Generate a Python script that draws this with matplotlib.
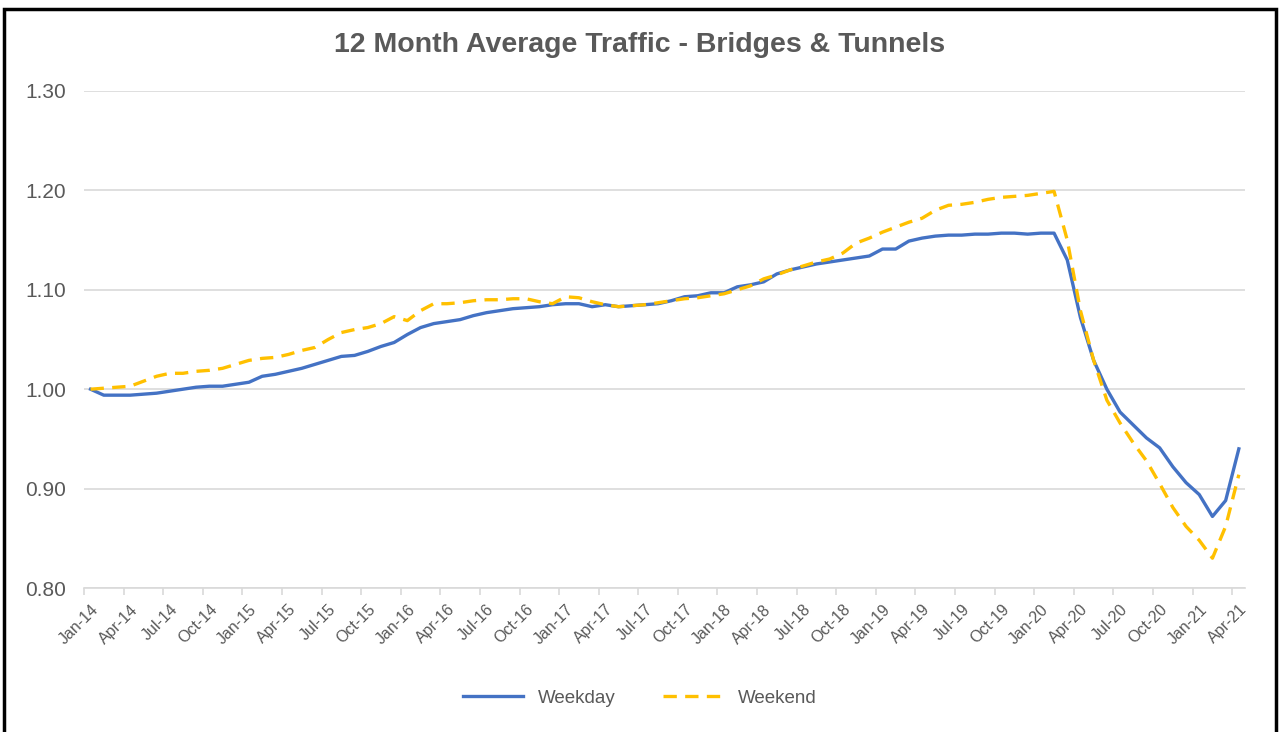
import matplotlib
matplotlib.use("Agg")
import matplotlib.pyplot as plt
from matplotlib.patches import Rectangle

# monthly data Jan-14 .. Apr-21 (88 months)
months = ["Jan", "Feb", "Mar", "Apr", "May", "Jun",
          "Jul", "Aug", "Sep", "Oct", "Nov", "Dec"]
labels = [f"{months[i % 12]}-{14 + i // 12}" for i in range(88)]

weekday = [
    1.000, 0.994, 0.994, 0.994, 0.995, 0.996, 0.998, 1.000, 1.002, 1.003, 1.003, 1.005,
    1.007, 1.013, 1.015, 1.018, 1.021, 1.025, 1.029, 1.033, 1.034, 1.038, 1.043, 1.047,
    1.055, 1.062, 1.066, 1.068, 1.070, 1.074, 1.077, 1.079, 1.081, 1.082, 1.083, 1.085,
    1.086, 1.086, 1.083, 1.085, 1.083, 1.084, 1.085, 1.086, 1.089, 1.093, 1.094, 1.097,
    1.097, 1.103, 1.105, 1.108, 1.116, 1.120, 1.123, 1.126, 1.128, 1.130, 1.132, 1.134,
    1.141, 1.141, 1.149, 1.152, 1.154, 1.155, 1.155, 1.156, 1.156, 1.157, 1.157, 1.156,
    1.157, 1.157, 1.130, 1.072, 1.029, 1.000, 0.977, 0.964, 0.951, 0.941, 0.922, 0.906,
    0.894, 0.872, 0.888, 0.940,
]
weekend = [
    1.000, 1.001, 1.002, 1.003, 1.008, 1.013, 1.016, 1.016, 1.018, 1.019, 1.021, 1.025,
    1.029, 1.031, 1.032, 1.035, 1.039, 1.042, 1.050, 1.057, 1.060, 1.062, 1.066, 1.073,
    1.069, 1.079, 1.086, 1.086, 1.087, 1.089, 1.090, 1.090, 1.091, 1.091, 1.088, 1.086,
    1.093, 1.092, 1.088, 1.085, 1.083, 1.084, 1.085, 1.087, 1.089, 1.091, 1.092, 1.094,
    1.096, 1.100, 1.104, 1.111, 1.115, 1.120, 1.124, 1.128, 1.131, 1.137, 1.147, 1.152,
    1.158, 1.163, 1.168, 1.172, 1.180, 1.185, 1.186, 1.188, 1.191, 1.193, 1.194, 1.195,
    1.197, 1.199, 1.150, 1.079, 1.029, 0.989, 0.966, 0.946, 0.928, 0.905, 0.881, 0.862,
    0.848, 0.830, 0.862, 0.914,
]
yticks = [0.80, 0.90, 1.00, 1.10, 1.20, 1.30]

plt.rcParams['font.family'] = ['Liberation Sans', 'DejaVu Sans']
grey = "#595959"

fig = plt.figure(figsize=(12.8, 7.32), dpi=100)
ax = fig.add_axes([0.0656, 0.1967, 0.9074, 0.679])

x = list(range(len(weekday)))
ax.plot(x, weekday, color="#4472C4", lw=2.4, label="Weekday", solid_joinstyle="round")
ax.plot(x, weekend, color="#FFC000", lw=2.4, dashes=(4, 2.5), label="Weekend")

ax.set_xlim(-0.5, len(x) - 0.5)
ax.set_ylim(0.80, 1.30)
ax.set_yticks(yticks)
ax.set_yticklabels([f"{v:.2f}" for v in yticks], color=grey, fontsize=15)
ax.grid(axis="y", color="#D9D9D9", lw=1.2)
ax.set_axisbelow(True)

# tick marks sit between categories, labels under the category itself
ax.set_xticks([i - 0.5 for i in range(0, len(x), 3)])
ax.set_xticklabels([])
ax.set_xticks(x[::3], minor=True)
ax.set_xticklabels(labels[::3], minor=True, rotation=45, ha="right",
                   rotation_mode="anchor", color=grey, fontsize=11.5)
ax.tick_params(axis="x", which="major", length=5, color="#D9D9D9", width=1.2)
ax.tick_params(axis="x", which="minor", length=0, pad=10)
ax.tick_params(axis="y", length=0, pad=13)
for s in ["left", "right", "top"]:
    ax.spines[s].set_visible(False)
ax.spines["bottom"].set_color("#D9D9D9")
ax.spines["bottom"].set_linewidth(1.2)

fig.text(0.5, 0.938, "12 Month Average Traffic - Bridges & Tunnels", ha="center",
         va="center", fontsize=20.5, fontweight="bold", color=grey)

fig.legend(loc="center", bbox_to_anchor=(0.5, 0.046), ncol=2, frameon=False,
           fontsize=13.5, handlelength=3.2, columnspacing=2.5, labelcolor=grey)

fig.patches.append(Rectangle((0.003, -0.01), 0.994, 0.998, transform=fig.transFigure,
                             fill=False, edgecolor="black", lw=2.5))

fig.savefig("out.png", dpi=100)
